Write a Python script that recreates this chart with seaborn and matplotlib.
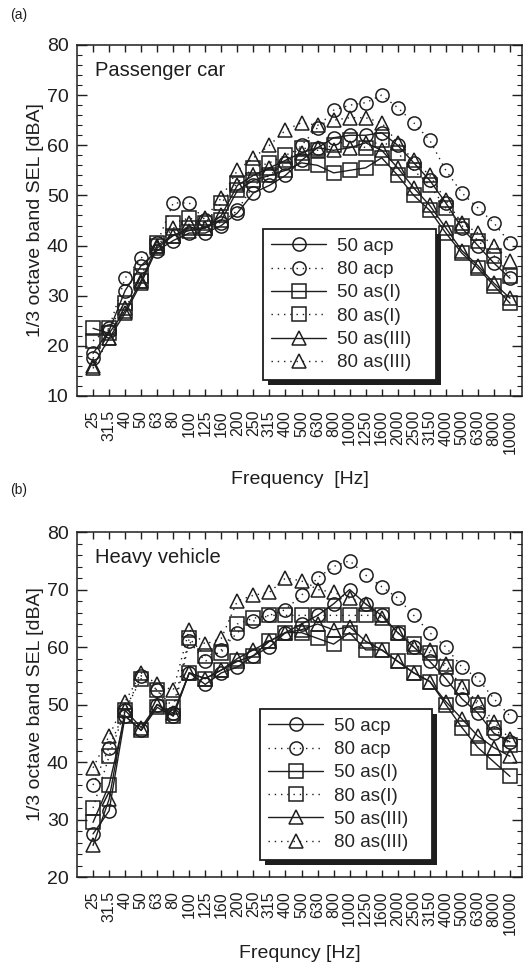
import matplotlib
matplotlib.use("Agg")
import matplotlib.pyplot as plt
from matplotlib.patches import Rectangle
from matplotlib.ticker import MultipleLocator
import seaborn as sns

# 1/3 octave band centre frequencies
freq_labels = ['25', '31.5', '40', '50', '63', '80', '100', '125', '160', '200',
               '250', '315', '400', '500', '630', '800', '1000', '1250', '1600',
               '2000', '2500', '3150', '4000', '5000', '6300', '8000', '10000']
series_names = ['50 acp', '80 acp', '50 as(I)', '80 as(I)', '50 as(III)', '80 as(III)']

# (a) Passenger car
car_50_acp = [18.5, 23.0, 31.0, 36.0, 39.0, 41.0, 42.5, 42.5, 44.0, 46.5, 50.5, 52.0, 54.0, 57.0,
              59.5, 61.5, 62.0, 62.0, 62.5, 60.0, 56.5, 53.0, 48.5, 43.5, 40.0, 36.5, 33.5]
car_80_acp = [17.5, 23.5, 33.5, 37.5, 40.5, 48.5, 48.5, 45.0, 44.5, 47.0, 52.0, 54.0, 56.5, 60.0,
              63.5, 67.0, 68.0, 68.5, 70.0, 67.5, 64.5, 61.0, 55.0, 50.5, 47.5, 44.5, 40.5]
car_50_asI = [23.5, 22.5, 27.0, 33.0, 40.0, 42.0, 43.5, 43.5, 45.0, 51.0, 53.0, 54.0, 55.0, 56.5,
              56.0, 54.5, 55.0, 55.5, 57.5, 54.0, 50.0, 47.0, 42.5, 38.5, 35.5, 32.0, 28.5]
car_80_asI = [21.0, 23.5, 28.5, 34.0, 40.5, 44.5, 45.5, 44.5, 48.5, 52.5, 55.5, 56.5, 58.0, 59.5,
              59.0, 60.0, 61.0, 59.5, 61.0, 58.5, 55.0, 52.0, 47.5, 44.0, 41.0, 38.0, 34.0]
car_50_asIII = [16.0, 21.5, 26.5, 32.5, 39.5, 42.0, 43.0, 43.5, 46.0, 52.0, 54.0, 55.5, 57.0, 58.5,
                59.5, 59.0, 59.5, 60.5, 59.0, 55.5, 51.5, 48.0, 43.5, 39.0, 36.0, 32.5, 29.5]
car_80_asIII = [15.5, 21.5, 27.5, 33.0, 40.0, 43.5, 44.5, 45.5, 49.5, 55.0, 57.5, 60.0, 63.0, 64.5,
                64.0, 65.0, 65.5, 65.5, 64.5, 60.5, 57.0, 54.0, 49.0, 44.5, 42.5, 40.0, 37.0]

# (b) Heavy vehicle
hv_50_acp = [27.5, 31.5, 48.0, 45.5, 50.0, 48.0, 55.5, 53.5, 55.5, 56.5, 58.5, 60.0, 62.5, 64.0,
             65.5, 67.5, 70.0, 67.5, 65.5, 62.5, 60.0, 57.5, 54.5, 51.0, 48.5, 45.0, 43.5]
hv_80_acp = [36.0, 42.5, 49.0, 55.0, 52.5, 48.5, 61.0, 57.5, 59.5, 62.5, 64.5, 65.5, 66.5, 69.0,
             72.0, 74.0, 75.0, 72.5, 70.5, 68.5, 65.5, 62.5, 60.0, 56.5, 54.5, 51.0, 48.0]
hv_50_asI = [29.5, 36.0, 48.0, 45.5, 49.5, 48.0, 55.5, 54.5, 56.0, 57.5, 58.5, 61.0, 62.5, 62.5,
             61.5, 60.5, 62.5, 59.5, 59.5, 57.5, 55.5, 54.0, 50.0, 46.0, 42.5, 40.0, 37.5]
hv_80_asI = [32.0, 41.0, 49.0, 54.5, 52.5, 49.5, 61.5, 58.5, 59.0, 64.0, 65.0, 65.5, 65.5, 65.5,
             65.5, 65.5, 65.5, 65.5, 65.5, 62.5, 60.5, 59.0, 56.5, 53.0, 50.0, 46.0, 43.0]
hv_50_asIII = [25.5, 33.5, 49.0, 46.0, 50.0, 48.5, 55.5, 54.5, 56.0, 58.0, 59.5, 61.0, 62.5, 63.0,
               64.0, 63.0, 63.5, 61.0, 59.5, 57.5, 55.5, 54.0, 50.5, 47.5, 44.5, 42.5, 41.0]
hv_80_asIII = [39.0, 44.5, 50.5, 55.5, 53.5, 52.5, 63.0, 60.5, 61.5, 68.0, 69.0, 69.5, 72.0, 71.5,
               70.0, 69.5, 68.5, 67.5, 65.0, 62.5, 60.0, 59.5, 57.0, 53.0, 50.5, 47.0, 44.0]

car_data = [car_50_acp, car_80_acp, car_50_asI, car_80_asI, car_50_asIII, car_80_asIII]
hv_data = [hv_50_acp, hv_80_acp, hv_50_asI, hv_80_asI, hv_50_asIII, hv_80_asIII]

markers = ['o', 'o', 's', 's', '^', '^']
dotted = (0, (1, 3.5))
linestyles = ['-', dotted, '-', dotted, '-', dotted]

sns.set_style('ticks')
plt.rcParams['font.family'] = ['Liberation Sans', 'DejaVu Sans']

ink = '#1e1e1e'
W, H = 523, 971
fig = plt.figure(figsize=(W / 100, H / 100), dpi=100)

ax_a = fig.add_axes([77 / W, 1 - 396 / H, (522 - 77) / W, (396 - 45) / H])
ax_b = fig.add_axes([77 / W, 1 - 877 / H, (522 - 77) / W, (877 - 532) / H])

xpos = list(range(len(freq_labels)))


def draw_panel(ax, data, ymin, title, xlabel, xpad, leg_anchor):
    for name, vals, mk, ls in zip(series_names, data, markers, linestyles):
        sns.lineplot(x=xpos, y=vals, ax=ax, color=ink, linestyle=ls, linewidth=1.0,
                     marker=mk, markersize=9.5, mfc='none', mec=ink, mew=1.1,
                     label=name, legend=False)
    ax.set_xlim(-1, 26.75)
    ax.set_ylim(ymin, 80)
    ax.set_xticks(xpos)
    ax.set_xticklabels(freq_labels, rotation=90, fontsize=11.5)
    ax.yaxis.set_major_locator(MultipleLocator(10))
    ax.yaxis.set_minor_locator(MultipleLocator(2))
    ax.tick_params(axis='x', which='major', direction='in', top=True, bottom=True,
                   length=5, width=1, pad=10, colors=ink)
    ax.tick_params(axis='y', which='major', direction='in', left=True, right=True,
                   length=7, width=1, pad=6, labelsize=14, colors=ink)
    ax.tick_params(axis='y', which='minor', direction='in', left=True, right=True,
                   length=3.5, width=0.8, colors=ink)
    for sp in ax.spines.values():
        sp.set_linewidth(1.1)
        sp.set_color(ink)
    ax.set_ylabel('1/3 octave band SEL [dBA]', fontsize=14, labelpad=2, color=ink)
    ax.set_xlabel(xlabel, fontsize=14, labelpad=xpad, color=ink)
    ax.text(0.04, 0.955, title, transform=ax.transAxes, fontsize=14.5,
            ha='left', va='top', color=ink)
    handles, labels = ax.get_legend_handles_labels()
    # trailing spaces give the roomy right margin of the original legend box
    labels = [lab + '   ' for lab in labels]
    leg = ax.legend(handles, labels, loc='lower left', bbox_to_anchor=leg_anchor,
                    borderaxespad=0, fontsize=13.5, frameon=True, fancybox=False,
                    framealpha=1, edgecolor=ink, handlelength=2.9, handletextpad=0.6,
                    labelspacing=0.33, borderpad=0.45)
    leg.get_frame().set_linewidth(1.3)
    return leg


leg_a = draw_panel(ax_a, car_data, 10, 'Passenger car', 'Frequency  [Hz]', 12, (0.418, 0.046))
leg_b = draw_panel(ax_b, hv_data, 20, 'Heavy vehicle', 'Frequncy [Hz]', 7, (0.411, 0.05))

fig.text(10 / W, 1 - 15 / H, '(a)', fontsize=10, ha='left', va='center', color=ink)
fig.text(10 / W, 1 - 490 / H, '(b)', fontsize=10, ha='left', va='center', color=ink)

# heavy drop shadow behind the legend boxes
fig.canvas.draw()
for ax, leg in [(ax_a, leg_a), (ax_b, leg_b)]:
    bb = leg.get_frame().get_window_extent().transformed(ax.transAxes.inverted())
    dx = 5 / (ax.bbox.width)
    dy = 5 / (ax.bbox.height)
    ax.add_patch(Rectangle((bb.x0 + dx, bb.y0 - dy), bb.width, bb.height,
                           transform=ax.transAxes, facecolor=ink, edgecolor='none',
                           zorder=4.9, clip_on=False))

fig.savefig('out.png', dpi=100)
